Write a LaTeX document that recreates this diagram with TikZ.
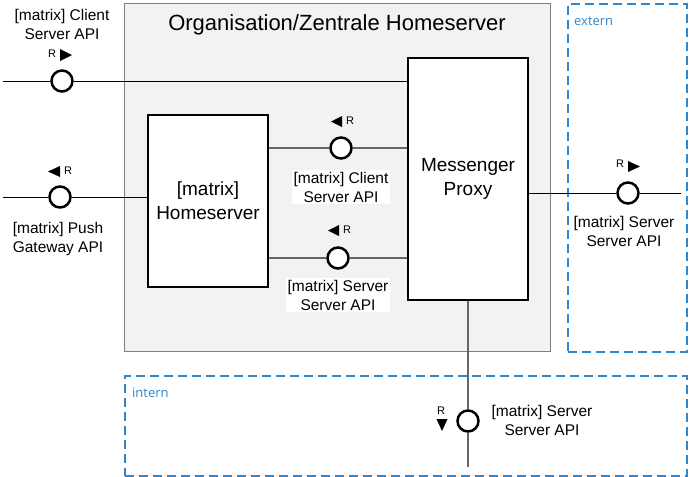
\documentclass[tikz,border=0pt]{standalone}
\usepackage{fontspec}
\setmainfont{Liberation Sans}
\newfontfamily\zonefont{Open Sans}
\definecolor{orgfill}{HTML}{F2F2F2}
\definecolor{orgline}{HTML}{7F7F7F}
\definecolor{zoneblue}{HTML}{2E86D0}
\definecolor{wire}{HTML}{666666}
\begin{document}
\begin{tikzpicture}[x=1pt,y=-1pt,
  org/.style={draw=orgline, fill=orgfill, line width=1pt, inner sep=0pt, anchor=north west},
  zone/.style={draw=zoneblue, dash pattern=on 9pt off 5pt, line width=1.5pt, inner sep=0pt, anchor=north west},
  zonelbl/.style={text=zoneblue, font=\zonefont\fontsize{13}{15}\selectfont, anchor=west, inner sep=0pt},
  comp/.style={draw=black, fill=white, line width=2.5pt, align=center, inner sep=0pt,
    minimum width=120pt, font=\fontsize{19}{24}\selectfont},
  iface/.style={circle, draw=black, fill=white, line width=2.5pt, minimum size=21pt, inner sep=0pt},
  lbl/.style={align=center, font=\fontsize{15.5}{19}\selectfont, inner sep=2pt},
  wlbl/.style={lbl, fill=white},
  rtag/.style={font=\fontsize{11}{12}\selectfont, inner sep=0pt},
  blk/.style={draw=black, line width=1pt},
  gry/.style={draw=wire, line width=1.5pt},
  tri/.style={fill=black}
]
\useasboundingbox (0,0) rectangle (689,477);

% zones
\node[org, minimum width=426pt, minimum height=348pt] (org) at (124,3) {};
\node[font=\fontsize{22}{24}\selectfont] (title) at (337,25) {Organisation/Zentrale Homeserver};
\node[zone, minimum width=119pt, minimum height=348pt] (ext) at (567,3) {};
\node[zonelbl] (extlbl) at (574,21) {extern};
\node[zone, minimum width=562pt, minimum height=100pt] (int) at (124,375) {};
\node[zonelbl] (intlbl) at (132,393) {intern};

% components
\node[comp, minimum height=172pt] (hs) at (208,201) {[matrix]\\Homeserver};
\node[comp, minimum height=242pt] (px) at (468,179) {Messenger\\Proxy};

% interfaces
\node[iface] (i1) at (62,81) {};
\node[iface] (i2) at (60,197) {};
\node[iface] (i3) at (341,148) {};
\node[iface] (i4) at (338,258) {};
\node[iface] (i5) at (628,193) {};
\node[iface] (i6) at (468,421) {};

\coordinate (e1) at (3,81);
\coordinate (e2) at (3,197);
\coordinate (e5) at (681,193);
\coordinate (e6) at (468,467);

% connectors
\draw[blk] (e1) -- (i1);
\draw[blk] (i1) -- (i1 -| px.west);
\draw[blk] (e2) -- (i2);
\draw[blk] (i2) -- (i2 -| hs.west);
\draw[gry] (hs.east |- i3) -- (i3);
\draw[gry] (i3) -- (i3 -| px.west);
\draw[gry] (hs.east |- i4) -- (i4);
\draw[gry] (i4) -- (i4 -| px.west);
\draw[blk] (px.east |- i5) -- (i5);
\draw[blk] (i5) -- (e5);
\draw[gry] (px.south) -- (i6);
\draw[gry] (i6) -- (e6);

% labels
\node[lbl] (l1) at (62,24) {[matrix] Client\\Server API};
\node[lbl] (l2) at (58,239) {[matrix] Push\\Gateway API};
\node[wlbl] (l3) at (341,187) {[matrix] Client\\Server API};
\node[wlbl] (l4) at (338,295) {[matrix] Server\\Server API};
\node[lbl] (l5) at (624,231) {[matrix] Server\\Server API};
\node[lbl] (l6) at (542,420) {[matrix] Server\\Server API};

% R tags
\node[rtag] (r1) at (52,54) {R};
\fill[tri] (60,49) -- (72,55) -- (60,61) -- cycle;
\node[rtag] (r2) at (68,171) {R};
\fill[tri] (60,166) -- (48,171.5) -- (60,177) -- cycle;
\node[rtag] (r3) at (350,121) {R};
\fill[tri] (342,116) -- (331,121.5) -- (342,127) -- cycle;
\node[rtag] (r4) at (347,230) {R};
\fill[tri] (339,225) -- (328,230.5) -- (339,236) -- cycle;
\node[rtag] (r5) at (620,164) {R};
\fill[tri] (628,161) -- (640,166.5) -- (628,172) -- cycle;
\node[rtag] (r6) at (441,411) {R};
\fill[tri] (436.5,419) -- (447.5,419) -- (442,431) -- cycle;
\end{tikzpicture}
\end{document}
